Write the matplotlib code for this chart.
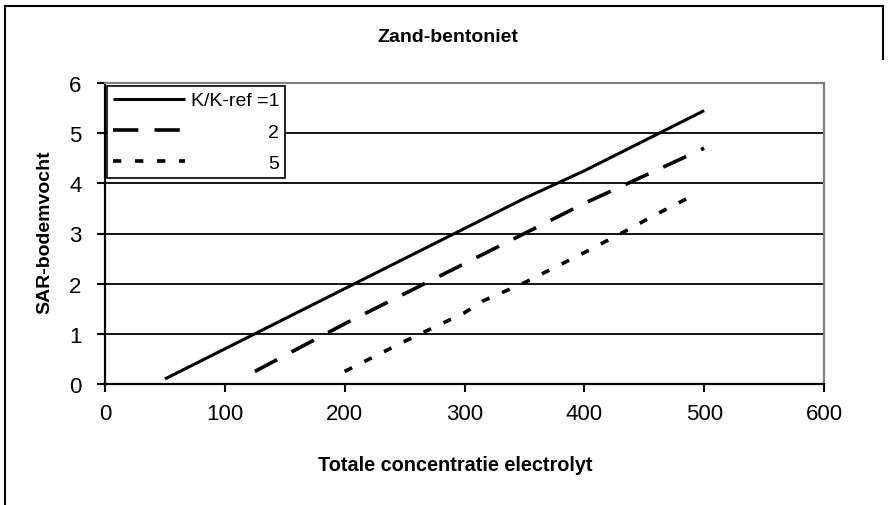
import matplotlib
matplotlib.use("Agg")
import matplotlib.pyplot as plt
from matplotlib.lines import Line2D

plt.rcParams['font.family'] = ['Liberation Sans', 'DejaVu Sans']

# Data
x_ref1 = [50, 75, 100, 150, 200, 250, 300, 350, 400, 450, 500]
y_ref1 = [0.1, 0.4, 0.7, 1.3, 1.9, 2.5, 3.1, 3.7, 4.25, 4.85, 5.45]
x_ref2 = [125, 200, 250, 300, 350, 400, 450, 500]
y_ref2 = [0.25, 1.2, 1.8, 2.4, 3.0, 3.6, 4.15, 4.7]
x_ref5 = [200, 250, 300, 315, 350, 400, 440, 455, 490]
y_ref5 = [0.25, 0.85, 1.42, 1.65, 2.02, 2.62, 3.12, 3.32, 3.75]
labels = ["K/K-ref =1", "2", "5"]
xticks = [0, 100, 200, 300, 400, 500, 600]
yticks = [0, 1, 2, 3, 4, 5, 6]

W, H = 888, 506
fig = plt.figure(figsize=(W / 100, H / 100), dpi=100)
ax = fig.add_axes([105 / W, 1 - 385 / H, 719 / W, 301 / H])

ax.plot(x_ref1, y_ref1, color='black', lw=2.2, solid_capstyle='butt', label=labels[0])
ax.plot(x_ref2, y_ref2, color='black', lw=2.6, dashes=(7, 4.5), label=labels[1])
ax.plot(x_ref5, y_ref5, color='black', lw=2.6, dashes=(2.3, 3.8), label=labels[2])

ax.set_xlim(0, 600)
ax.set_ylim(0, 6)
ax.set_xticks(xticks)
ax.set_yticks(yticks)
ax.tick_params(axis='both', direction='out', length=6, width=1.5, labelsize=16, colors='black')
ax.tick_params(axis='y', pad=11)
ax.tick_params(axis='x', pad=8)

for y in yticks[1:-1]:
    ax.axhline(y, color='black', lw=1.3, zorder=1)

ax.spines['left'].set_linewidth(1.6)
ax.spines['bottom'].set_linewidth(1.6)
ax.spines['top'].set_color('#808080')
ax.spines['right'].set_color('#808080')
ax.spines['top'].set_linewidth(1.6)
ax.spines['right'].set_linewidth(1.6)

fig.text(455 / W, 1 - 466 / H, "Totale concentratie electrolyt", fontsize=14.3, fontweight='bold',
         ha='center', va='center')
fig.text(45 / W, 1 - 232 / H, "SAR-bodemvocht", fontsize=14, fontweight='bold',
         ha='center', va='center', rotation=90)
fig.text(448 / W, 1 - 38 / H, "Zand-bentoniet", fontsize=14, fontweight='bold',
         ha='center', va='center')

leg = ax.legend(loc='upper left', bbox_to_anchor=(2 / 719, 1 - 3 / 301), borderaxespad=0,
                fontsize=14, handlelength=3.7, handletextpad=0.3, labelspacing=0.7,
                borderpad=0.3, fancybox=False, framealpha=1, edgecolor='black')
leg.get_frame().set_linewidth(1.2)
leg.set_zorder(5)

fig.canvas.draw()
r = fig.canvas.get_renderer()
texts = leg.get_texts()
ws = [t.get_window_extent(r).width for t in texts]
m = max(ws)
for t, w in zip(texts, ws):
    t.set_position((m - w, 0))

# outer border
fig.add_artist(Line2D([5 / W, 5 / W], [0, 1 - 7 / H], transform=fig.transFigure, color='black', lw=1.5))
fig.add_artist(Line2D([5 / W, 883 / W], [1 - 7 / H, 1 - 7 / H], transform=fig.transFigure, color='black', lw=1.5))
fig.add_artist(Line2D([883 / W, 883 / W], [1 - 7 / H, 1 - 60 / H], transform=fig.transFigure, color='black', lw=1.5))

fig.savefig("out.png", dpi=100)
